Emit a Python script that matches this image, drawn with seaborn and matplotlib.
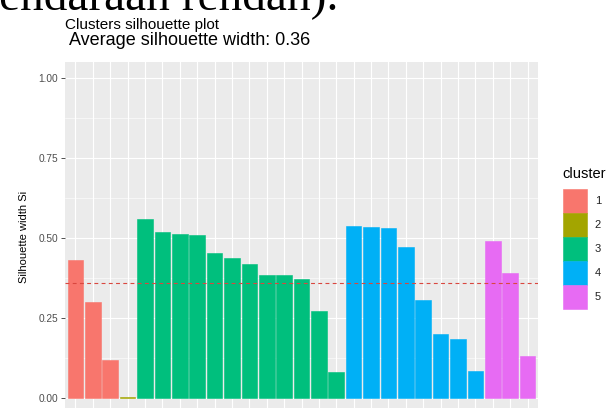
import matplotlib
matplotlib.use("Agg")
import matplotlib.pyplot as plt
import pandas as pd
import seaborn as sns
from matplotlib.patches import Patch

# Silhouette widths of each observation, ordered by cluster and width
cluster = [1, 1, 1,
           2,
           3, 3, 3, 3, 3, 3, 3, 3, 3, 3, 3, 3,
           4, 4, 4, 4, 4, 4, 4, 4,
           5, 5, 5]
sil_width = [0.430, 0.300, 0.120,
             0.004,
             0.560, 0.520, 0.513, 0.508, 0.453, 0.437, 0.420, 0.385, 0.385, 0.373, 0.272, 0.080,
             0.537, 0.535, 0.532, 0.473, 0.305, 0.200, 0.185, 0.085,
             0.492, 0.392, 0.130]
obs = [f"o{i + 1}" for i in range(len(sil_width))]
avg_width = 0.36
cluster_levels = ["1", "2", "3", "4", "5"]
palette = ["#F8766D", "#A3A500", "#00BF7D", "#00B0F6", "#E76BF3"]
y_ticks = [0.00, 0.25, 0.50, 0.75, 1.00]
y_tick_labels = ["0.00", "0.25", "0.50", "0.75", "1.00"]

df = pd.DataFrame({"name": obs, "sil_width": sil_width,
                   "cluster": [str(c) for c in cluster]})

W, H = 607, 408
fig = plt.figure(figsize=(W / 100, H / 100), dpi=100)
fig.patch.set_facecolor("white")

# panel runs past the lower edge of the canvas
left, right, top, bottom = 65, 538, 62, 414
ax = fig.add_axes([left / W, 1 - bottom / H, (right - left) / W, (bottom - top) / H])
ax.set_facecolor("#EBEBEB")

pal = dict(zip(cluster_levels, palette))
sns.barplot(data=df, x="name", y="sil_width", hue="cluster", hue_order=cluster_levels,
            palette=pal, dodge=False, width=0.9, saturation=1, legend=False,
            linewidth=0, ax=ax)
# outline bars in their own fill colour
for bar in ax.patches:
    bar.set_edgecolor(bar.get_facecolor())
    bar.set_linewidth(0.4)

ax.axhline(avg_width, color="#D9473F", linestyle=(0, (3.5, 3)), linewidth=0.8, zorder=5)

ax.set_xlim(-0.6, len(obs) - 0.4)
ax.set_ylim(-0.05, 1.05)
ax.set_yticks(y_ticks)
ax.set_yticklabels(y_tick_labels)
ax.set_yticks([0.125, 0.375, 0.625, 0.875], minor=True)
ax.grid(True, which="major", axis="both", color="white", linewidth=0.8)
ax.grid(True, which="minor", axis="y", color="white", linewidth=0.4)
ax.set_axisbelow(True)
for s in ax.spines.values():
    s.set_visible(False)
ax.tick_params(axis="x", which="both", bottom=False, labelbottom=False)
ax.tick_params(axis="y", which="major", length=3, width=0.6, color="#333333",
               labelsize=7.3, labelcolor="#4D4D4D", pad=2)
ax.tick_params(axis="y", which="minor", length=0)
ax.set_xlabel("")
ax.set_ylabel("Silhouette width Si", fontsize=8, color="black", family="Liberation Sans")
ax.yaxis.set_label_coords((29 - left) / (right - left), 0.503)
for t in ax.get_yticklabels():
    t.set_family("Liberation Sans")

# title lines
fig.text(65 / W, 1 - 29 / H, "Clusters silhouette plot", ha="left", va="baseline",
         fontsize=11, family="Liberation Sans", color="black")
fig.text(65 / W, 1 - 45 / H, " Average silhouette width: 0.36", ha="left", va="baseline",
         fontsize=13, family="Liberation Sans", color="black")

# page text above the chart
fig.text(338 / W, 1 - 9.5 / H, "endaraan rendah).", ha="right", va="baseline",
         fontsize=34, family="Liberation Serif", color="black")

# legend
fs = 8
fs_px = fs * 100 / 72
key_px = 24
hh = (key_px / fs_px - 0.245) / 0.65
hl = key_px / fs_px
fig.text(562 / W, 1 - 178 / H, "cluster", ha="left", va="baseline",
         fontsize=10.5, family="Liberation Sans", color="black")
handles = [Patch(facecolor=c, edgecolor=c, linewidth=0.4) for c in palette]
leg = fig.legend(handles, cluster_levels, loc="upper left",
                 bbox_to_anchor=(563 / W, 1 - 189 / H), frameon=False,
                 prop={"family": "Liberation Sans", "size": fs},
                 handlelength=hl, handleheight=hh, labelspacing=0.0,
                 handletextpad=0.7, borderpad=0.0, borderaxespad=0.0)
for t in leg.get_texts():
    t.set_color("#222222")

fig.savefig("out.png", dpi=100)
